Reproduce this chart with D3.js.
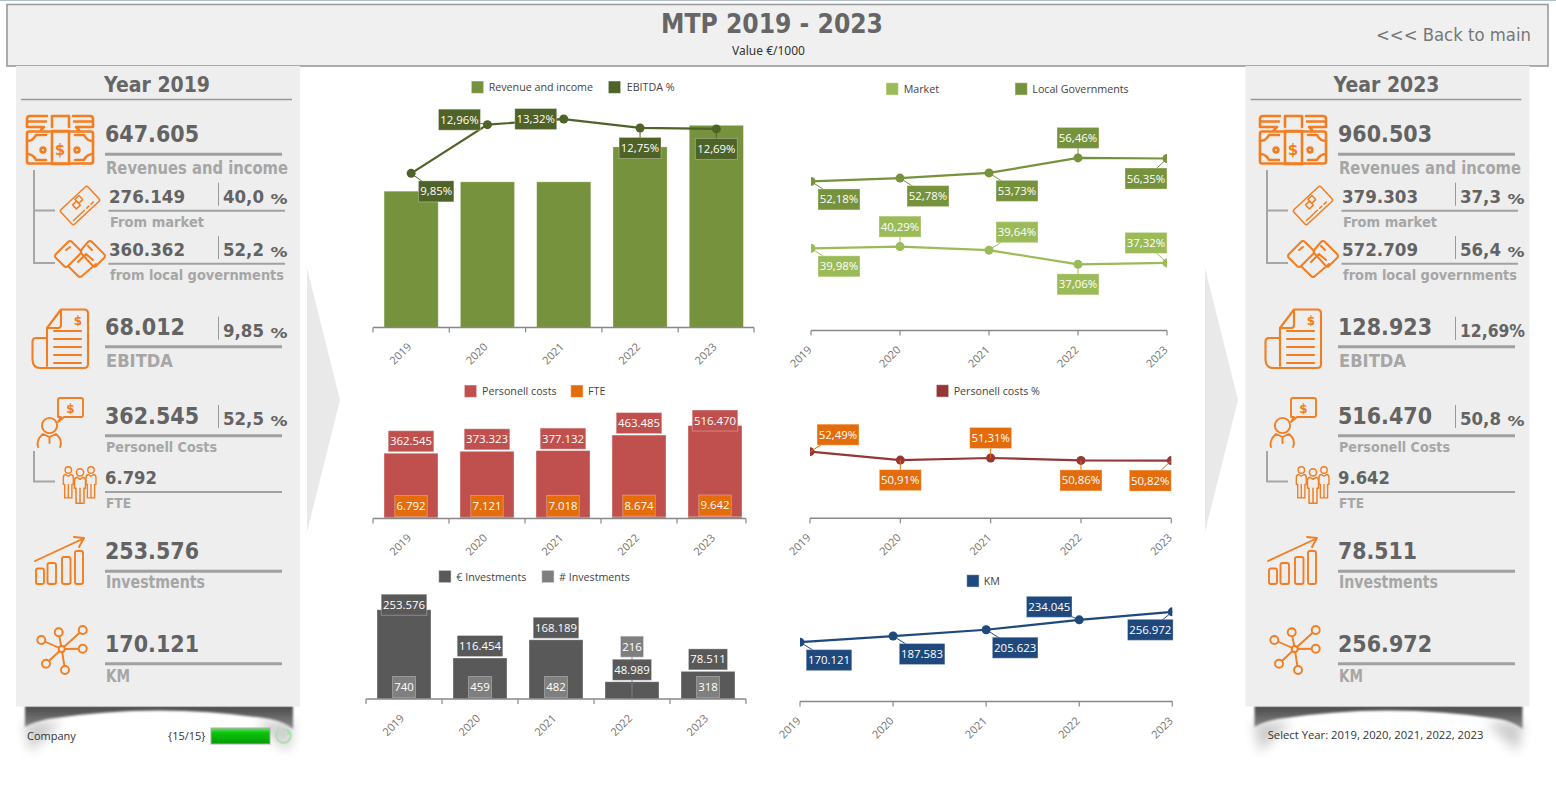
<!DOCTYPE html>
<html>
<head>
<meta charset="utf-8">
<title>MTP 2019 - 2023</title>
<script src="https://cdn.jsdelivr.net/npm/d3@7"></script>
<style>
    html, body { margin: 0; padding: 0; background: #fff; overflow: hidden; }
    svg { display: block; }
    text { font-family: "Open Sans", sans-serif; }
    .kpi text { font-family: "DejaVu Sans", sans-serif; font-weight: bold; }
</style>
</head>
<body>
<svg id="draw" width="1556" height="801"></svg>
<script>
var years = ["2019", "2020", "2021", "2022", "2023"];

// series
var revenue = [647605, 692000, 692000, 858000, 960503];
var ebitdaPct = [9.85, 12.96, 13.32, 12.75, 12.69];
var marketPct = [39.98, 40.29, 39.64, 37.06, 37.32];
var govPct = [52.18, 52.78, 53.73, 56.46, 56.35];
var personnel = [362545, 373323, 377132, 463485, 516470];
var fte = [6792, 7121, 7018, 8674, 9642];
var personnelPct = [52.49, 50.91, 51.31, 50.86, 50.82];
var investEuro = [253576, 116454, 168189, 48989, 78511];
var investCount = [740, 459, 482, 216, 318];
var km = [170121, 187583, 205623, 234045, 256972];

// side panels only show first and last year
var panelYears = ["2019", "2023"];
var marketAbs = [276149, 379303];
var govAbs = [360362, 572709];
var ebitdaAbs = [68012, 128923];

var C_ORANGE = "#f47d20", C_RULE = "#a0a0a0", C_VAL = "#636363", C_LBL = "#a6a6a6";

var svg = d3.select("#draw");
var defs = svg.append("defs");

var fmtThousand = d3.formatLocale({decimal: ",", thousands: ".", grouping: [3], currency: ["", ""]}).format(",d");
function pct2(v){ return v.toFixed(2).replace(".", ",") + "%"; }
function pct1(v){ return v.toFixed(1).replace(".", ","); }

//blur + gradients
defs.append("filter").attr("id", "blur2").attr("x", "-20%").attr("y", "-50%").attr("width", "140%").attr("height", "200%")
    .append("feGaussianBlur").attr("stdDeviation", 1);
defs.append("filter").attr("id", "blur8").attr("x", "-60%").attr("y", "-60%").attr("width", "220%").attr("height", "220%")
    .append("feGaussianBlur").attr("stdDeviation", 6);
var shade = defs.append("linearGradient").attr("id", "shade").attr("x1", 0).attr("x2", 0).attr("y1", 0).attr("y2", 1);
shade.append("stop").attr("offset", "0").attr("stop-color", "#4a4a4a");
shade.append("stop").attr("offset", "1").attr("stop-color", "#8a8a8a");
var green = defs.append("linearGradient").attr("id", "green").attr("x1", 0).attr("x2", 0).attr("y1", 0).attr("y2", 1);
green.append("stop").attr("offset", "0").attr("stop-color", "#6fe06f");
green.append("stop").attr("offset", "0.3").attr("stop-color", "#0cc40c");
green.append("stop").attr("offset", "1").attr("stop-color", "#049a04");

//header
svg.append("line").attr("x1", 0).attr("x2", 1556).attr("y1", 0.5).attr("y2", 0.5).attr("stroke", "#b4bcc8");
svg.append("rect").attr("x", 7).attr("y", 4.5).attr("width", 1541).attr("height", 61.5)
    .attr("fill", "#f0f0f0").attr("stroke", "#9a9a9a").attr("stroke-width", 1.6);
svg.append("text").text("MTP 2019 - 2023").attr("x", 772).attr("y", 33).attr("text-anchor", "middle")
    .style("font-family", "DejaVu Sans").attr("font-weight", "bold").attr("font-size", 26)
    .attr("fill", "#666").attr("textLength", 222).attr("lengthAdjust", "spacingAndGlyphs");
svg.append("text").text("Value €/1000").attr("x", 768.5).attr("y", 55).attr("text-anchor", "middle")
    .style("font-family", "Noto Sans").attr("font-size", 12).attr("fill", "#333");
svg.append("text").text("<<< Back to main").attr("x", 1376).attr("y", 41)
    .style("font-family", "DejaVu Sans").attr("font-size", 18).attr("fill", "#777")
    .attr("textLength", 155).attr("lengthAdjust", "spacingAndGlyphs");

//light arrows between the panels and the charts
[[307, 340], [1205, 1238]].forEach(function(a){
    svg.append("path").attr("d", "M" + a[0] + " 268L" + a[1] + " 400L" + a[0] + " 532Z").attr("fill", "#e9e9e9");
});

//panel background + the bottom shadow
function panelBack(dx){
    var g = svg.append("g").attr("transform", "translate(" + dx + ",0)");
    g.append("path").attr("d", "M24 722H62L30 752Z").attr("fill", "#000").attr("opacity", 0.2).attr("filter", "url(#blur8)");
    g.append("path").attr("d", "M294 722H256L288 752Z").attr("fill", "#000").attr("opacity", 0.2).attr("filter", "url(#blur8)");
    g.append("path").attr("d", "M25 706H293V729Q285 722 270 719Q159 702 48 719Q33 722 25 727Z")
        .attr("fill", "url(#shade)").attr("filter", "url(#blur2)");
    g.append("rect").attr("x", 16).attr("y", 66).attr("width", 284).attr("height", 640.5).attr("fill", "#eeeeee");
}
panelBack(0);
panelBack(1229.5);

//text helper, textLength keeps the tahoma-like widths
function put(g, str, x, y, size, color, len){
    var t = g.append("text").text(str).attr("x", x).attr("y", y).attr("font-size", size).attr("fill", color);
    if(len){ t.attr("textLength", len).attr("lengthAdjust", "spacingAndGlyphs"); }
    return t;
}
function rule(g, x1, x2, y, w, color){
    g.append("line").attr("x1", x1).attr("x2", x2).attr("y1", y).attr("y2", y)
        .attr("stroke", color || C_RULE).attr("stroke-width", w);
}

// ---------- icons ----------
function iconGroup(g, sw){
    return g.append("g").attr("fill", "none").attr("stroke", C_ORANGE).attr("stroke-width", sw)
        .attr("stroke-linecap", "round").attr("stroke-linejoin", "round");
}
function dollar(g, x, y, size){
    g.append("text").text("$").attr("x", x).attr("y", y).attr("text-anchor", "middle").attr("font-size", size)
        .attr("fill", C_ORANGE).attr("stroke", "none").style("font-family", "DejaVu Sans").attr("font-weight", "bold");
}
function iconMoney(g){
    var i = iconGroup(g, 2.6);
    i.append("path").attr("d", "M27 127V119Q27 116 30 116H47M27 121.5H46M27 127H44L41 130");
    i.append("path").attr("d", "M93 127V119Q93 116 90 116H73M93 121.5H74M93 127H76L79 130");
    i.append("path").attr("d", "M52 127V116H69V127");
    i.append("rect").attr("x", 27).attr("y", 131.5).attr("width", 66).attr("height", 32).attr("rx", 2);
    i.append("rect").attr("x", 52).attr("y", 131).attr("width", 17).attr("height", 33);
    i.append("path").attr("d", "M27 141Q33 141 36 135H46M27 154Q33 154 36 160H46M93 141Q87 141 84 135H75M93 154Q87 154 84 160H75");
    i.append("circle").attr("cx", 43).attr("cy", 150).attr("r", 2.4);
    i.append("circle").attr("cx", 77).attr("cy", 150).attr("r", 2.4);
    dollar(i, 60, 155, 15);
}
function iconCard(g){
    var i = iconGroup(g, 1.5);
    i.append("g").attr("transform", "translate(80,205.5) rotate(-43)").call(function(c){
        c.append("rect").attr("x", -18.5).attr("y", -10).attr("width", 37).attr("height", 20).attr("rx", 2);
        c.append("path").attr("d", "M-15 6.5H0M3 6.5H6M9 6.5H12");
        c.append("rect").attr("x", -5).attr("y", -5.5).attr("width", 5.5).attr("height", 5.5);
        c.append("rect").attr("x", 0.5).attr("y", -8).attr("width", 5.5).attr("height", 5.5);
    });
}
function iconHands(g){
    var i = iconGroup(g, 2);
    i.append("path").attr("d", "M56 254L68 242Q70 240 72 242L80 250Q82 252 80 254L68 266Q66 268 64 266L56 258Q54 256 56 254Z");
    i.append("path").attr("d", "M104 254L92 242Q90 240 88 242L82 249Q80 252 82 254L92 265Q94 268 96 266L104 258Q106 256 104 254Z");
    i.append("path").attr("d", "M68 266L78 276Q80 278 82 276L96 264M78 262L86 254L93 260M66 250L70 247M88 246L92 250");
}
function iconDoc(g){
    var i = iconGroup(g, 2.1);
    i.append("path").attr("d", "M47 366V328L61 309.5H84Q88 309.5 88 313.5V364Q88 368 84 368H40Q33 368 32.5 360V342Q32.5 338 36 338H47");
    i.append("path").attr("d", "M47 328H58Q61 328 61 325V310M54 331H81M54 339H81M54 347H81M54 355H81M54 363H81");
    dollar(i, 78, 325, 12);
}
function iconPerson(g){
    var i = iconGroup(g, 1.9);
    i.append("circle").attr("cx", 49.5).attr("cy", 425.5).attr("r", 7.6);
    i.append("path").attr("d", "M38 447Q36 440 43 434L49.5 437L56 434Q63 440 60 447M49.5 437V443");
    i.append("path").attr("d", "M58 422L61 417H58V400Q58 398 60 398H81Q83 398 83 400V415Q83 417 81 417H64Z");
    dollar(i, 70.5, 413, 12);
}
function iconPeople(g){
    var i = iconGroup(g, 1.5);
    [[68.3, 470, 0.9], [91, 470, 0.9], [80, 472.3, 1]].forEach(function(p){
        i.append("g").attr("transform", "translate(" + p[0] + "," + p[1] + ") scale(" + p[2] + ")").call(function(f){
            f.append("circle").attr("r", 3.6).attr("fill", "#eee");
            f.append("path").attr("d", "M-5.5 16V8Q-5.5 5.5 -3 5L0 7L3 5Q5.5 5.5 5.5 8V16H4V31H-4V16ZM0 16V31").attr("fill", "#eee");
        });
    });
}
function iconChart(g){
    var i = iconGroup(g, 1.9);
    i.append("path").attr("d", "M35 561L83.5 538.5M74 537L84 538L79 547");
    [[36, 568.5, 8], [47.5, 563, 8.5], [62, 557, 8.5], [75, 551, 8]].forEach(function(b){
        i.append("rect").attr("x", b[0]).attr("y", b[1]).attr("width", b[2]).attr("height", 584 - b[1]).attr("rx", 2);
    });
}
function iconNet(g){
    var i = iconGroup(g, 1.9);
    var hub = [61.7, 649];
    var nodes = [[41.3, 640], [58.7, 632.3], [82.7, 630], [82.7, 648.7], [65, 670], [46, 663.7]];
    nodes.forEach(function(n){
        i.append("line").attr("x1", hub[0]).attr("y1", hub[1]).attr("x2", n[0]).attr("y2", n[1]);
    });
    nodes.forEach(function(n){
        i.append("circle").attr("cx", n[0]).attr("cy", n[1]).attr("r", 4).attr("fill", "#eee");
    });
    i.append("circle").attr("cx", hub[0]).attr("cy", hub[1]).attr("r", 3).attr("fill", "#eee");
}

// ---------- one KPI panel ----------
function drawPanel(idx){
    var last = idx === 0 ? 0 : years.length - 1;      //index in the yearly series
    var dx = idx === 0 ? 0 : 1233;
    var sideX = idx === 0 ? 0 : 4;                    //percent column sits a bit further right
    var g = svg.append("g").attr("class", "kpi").attr("transform", "translate(" + dx + ",0)");

    var titleDx = idx === 0 ? 0 : -3.5;
    put(g, "Year " + panelYears[idx], 157 + titleDx, 92, 21, "#666", 106).attr("text-anchor", "middle");
    rule(g, 21 + titleDx, 292 + titleDx, 99.5, 1.4, "#999");

    //tree connectors
    g.append("path").attr("d", "M34 170V263H55M34 210.5H55M34 451V481.5H55").attr("fill", "none").attr("stroke", "#a6a6a6").attr("stroke-width", 2);

    function side(y, yTop, str){
        g.append("line").attr("x1", 218.5 + sideX).attr("x2", 218.5 + sideX).attr("y1", yTop).attr("y2", yTop + 23).attr("stroke", "#999");
        put(g, str, 223 + sideX, y, 18, C_VAL, 41);
        put(g, "%", 270.5 + sideX, y + 1, 14, C_VAL, 17);
    }

    iconMoney(g);
    put(g, fmtThousand(revenue[last]), 105, 142, 23, C_VAL, 94);
    rule(g, 105, 282, 154.3, 3);
    put(g, "Revenues and income", 106, 174, 17, C_LBL, 182);

    iconCard(g);
    put(g, fmtThousand(marketAbs[idx]), 109, 202.7, 18, C_VAL, 76);
    side(203, 182.7, pct1(marketPct[last]));
    rule(g, 108.5, 285, 210.7, 2);
    put(g, "From market", 110, 227.3, 14.7, C_LBL, 94);

    iconHands(g);
    put(g, fmtThousand(govAbs[idx]), 109, 255.7, 18, C_VAL, 76);
    side(256, 236, pct1(govPct[last]));
    rule(g, 108.5, 285, 263.7, 2);
    put(g, "from local governments", 110, 280, 14.7, C_LBL, 174);

    iconDoc(g);
    put(g, fmtThousand(ebitdaAbs[idx]), 105, 335, 23, C_VAL, idx === 0 ? 80 : 94);
    if(idx === 0){
        side(337, 316.7, pct2(ebitdaPct[last]).replace("%", ""));
    } else {
        g.append("line").attr("x1", 222.5).attr("x2", 222.5).attr("y1", 316.7).attr("y2", 340).attr("stroke", "#999");
        put(g, pct2(ebitdaPct[last]), 227, 337, 18, C_VAL, 65);
    }
    rule(g, 105, 282, 346.7, 3);
    put(g, "EBITDA", 106, 367.3, 17, C_LBL, 67);

    iconPerson(g);
    put(g, fmtThousand(personnel[last]), 105, 424, 23, C_VAL, 94);
    side(425, 405, pct1(personnelPct[last]));
    rule(g, 105, 282, 435.7, 3);
    put(g, "Personell Costs", 106, 452.3, 14.7, C_LBL, 111);

    iconPeople(g);
    put(g, fmtThousand(fte[last]), 105, 484, 18, C_VAL, 52);
    rule(g, 105, 282, 492, 2);
    put(g, "FTE", 106, 508.3, 14.7, C_LBL, 25);

    iconChart(g);
    put(g, fmtThousand(investEuro[last]), 105, 558.7, 23, C_VAL, idx === 0 ? 94 : 79);
    rule(g, 105, 282, 571.3, 3);
    put(g, "Investments", 106, 588.3, 17, C_LBL, 99);

    iconNet(g);
    put(g, fmtThousand(km[last]), 105, 651.7, 23, C_VAL, 94);
    rule(g, 105, 282, 663.7, 3);
    put(g, "KM", 106, 681.7, 17, C_LBL, 24);
}
drawPanel(0);
drawPanel(1);

//footer
svg.append("text").text("Company").attr("x", 27).attr("y", 740).attr("font-size", 11).attr("fill", "#333");
svg.append("text").text("{15/15}").attr("x", 168).attr("y", 740).attr("font-size", 11).attr("fill", "#333");
svg.append("rect").attr("x", 211).attr("y", 728).attr("width", 59).attr("height", 16).attr("fill", "url(#green)")
    .attr("stroke", "#aaa");
svg.append("path").attr("d", "M288 730A7.2 7.2 0 1 1 279 730M288 730V735M288 730H283")
    .attr("fill", "none").attr("stroke", "#b0e0b0").attr("stroke-width", 2.2);
svg.append("text").text("Select Year: 2019, 2020, 2021, 2022, 2023").attr("x", 1267.7).attr("y", 738.5).attr("font-size", 11.5)
    .attr("fill", "#333").attr("textLength", 215.7).attr("lengthAdjust", "spacingAndGlyphs");

// ---------- chart helpers ----------
function legend(items, y){
    items.forEach(function(d){
        svg.append("rect").attr("x", d.x).attr("y", y).attr("width", 12.4).attr("height", 12.4).attr("fill", d.color)
            .attr("stroke", "#fff").attr("stroke-opacity", 0.5);
        svg.append("text").text(d.text).attr("x", d.tx).attr("y", y + 10.4).attr("font-size", 10.7).attr("fill", "#444");
    });
}

//axis line and ticks at tickXs, year labels on labelScale
function xAxis(labelScale, tickXs, y){
    var g = svg.append("g").attr("transform", "translate(0," + y + ")");
    g.call(d3.axisBottom(labelScale).tickSize(0));
    g.select(".domain").remove();
    g.selectAll(".tick text")
        .attr("font-size", 11).attr("fill", "#707070").style("font-family", "Open Sans")
        .attr("text-anchor", "end").attr("x", 0).attr("y", 0).attr("dy", 0)
        .attr("transform", "translate(1,20) rotate(-45)");
    g.append("line").attr("x1", tickXs[0]).attr("x2", tickXs[tickXs.length - 1]).attr("stroke", "#888").attr("stroke-width", 1.5);
    g.selectAll(".edge").data(tickXs).enter().append("line").attr("class", "edge")
        .attr("x1", function(d){ return d; }).attr("x2", function(d){ return d; })
        .attr("y1", 0).attr("y2", 5).attr("stroke", "#888").attr("stroke-width", 1.2);
}

//ticks sit between the bars, last one is given because the axis can stop early
function bandTicks(x, end){
    var t = years.map(function(d){ return x(d) - (x.step() - x.bandwidth()) / 2; });
    t.push(end);
    return t;
}

function valueLabel(px, py, cx, cy, str, color, link){
    if(link){
        svg.append("line").attr("x1", px).attr("y1", py).attr("x2", cx).attr("y2", cy).attr("stroke", color);
    }
    var t = svg.append("text").text(str).attr("x", cx).attr("y", cy + 4).attr("text-anchor", "middle")
        .attr("font-size", 11.4).attr("fill", "#fff");
    var w = t.node().getComputedTextLength() + 3.5;
    svg.insert("rect", function(){ return t.node(); })
        .attr("x", cx - w / 2).attr("y", cy - 10.5).attr("width", w).attr("height", 21)
        .attr("fill", color).attr("stroke", "#fff").attr("stroke-opacity", 0.3);
}

function bars(x, y, values, color){
    svg.selectAll(null).data(values).enter().append("rect")
        .attr("x", function(d, i){ return x(years[i]); })
        .attr("width", x.bandwidth())
        .attr("y", function(d){ return y(d); })
        .attr("height", function(d){ return y(0) - y(d); })
        .attr("fill", color).attr("stroke", "#fff").attr("stroke-opacity", 0.4).attr("stroke-width", 0.8);
}

var clipId = 0;
function lineSeries(x, y, values, color, offs, fillLabel, clip, fmt){
    var g = svg.append("g");
    if(clip){
        clipId++;
        defs.append("clipPath").attr("id", "clip" + clipId).append("rect")
            .attr("x", x.range()[0]).attr("y", 0).attr("width", x.range()[1] - x.range()[0]).attr("height", 801);
        g.attr("clip-path", "url(#clip" + clipId + ")");
    }
    var line = d3.line().x(function(d, i){ return x(years[i]); }).y(function(d){ return y(d); });
    g.append("path").attr("d", line(values)).attr("fill", "none").attr("stroke", color).attr("stroke-width", 2.2);
    g.selectAll("circle").data(values).enter().append("circle")
        .attr("cx", function(d, i){ return x(years[i]); })
        .attr("cy", function(d){ return y(d); })
        .attr("r", 4.5).attr("fill", color);
    //boxes go over the line, the connector sticks out of them to the marker
    values.forEach(function(v, i){
        valueLabel(x(years[i]), y(v), x(years[i]) + offs[i][0], y(v) + offs[i][1], fmt(v), fillLabel || color, true);
    });
}

// ---------- chart 1, revenue and EBITDA ----------
var c1x = d3.scaleBand().domain(years).range([373, 754.5]).paddingInner(0.29).paddingOuter(0.145);
var c1y = d3.scaleLinear().domain([0, 1000000]).range([327.5, 117]);
var c1p = d3.scaleLinear().domain([0, 14]).range([327.5, 108.4]);
var c1pt = d3.scalePoint().domain(years).range([c1x("2019") + c1x.bandwidth() / 2, c1x("2023") + c1x.bandwidth() / 2]);
bars(c1x, c1y, revenue, "#76923c");
xAxis(c1x, bandTicks(c1x, 754), 327.5);
lineSeries(c1pt, c1p, ebitdaPct, "#4f6228", [[25, 18], [-28, -5], [-28, 0], [0, 20], [0, 20]], null, false, pct2);
legend([{x: 471.3, tx: 488.7, color: "#76923c", text: "Revenue and income"},
    {x: 608.3, tx: 626.7, color: "#4f6228", text: "EBITDA %"}], 81);

// ---------- chart 2, market / local governments ----------
var c2x = d3.scalePoint().domain(years).range([811, 1167]);
var c2y = d3.scaleLinear().domain([25, 60]).range([330.5, 138.5]);
lineSeries(c2x, c2y, govPct, "#76923c", [[28, 18], [28, 18], [28, 18], [0, -20], [-21, 20]], null, true, pct2);
lineSeries(c2x, c2y, marketPct, "#9bbb59", [[28, 18], [0, -20], [28, -18], [0, 20], [-21, -20]], null, true, pct2);
xAxis(c2x, years.map(c2x), 330.5);
legend([{x: 886, tx: 903.7, color: "#9bbb59", text: "Market"},
    {x: 1015, tx: 1032.3, color: "#76923c", text: "Local Governments"}], 82.7);

// ---------- chart 3, personnel costs and FTE ----------
var c3x = d3.scaleBand().domain(years).range([373, 753]).paddingInner(0.29).paddingOuter(0.145);
var c3y = d3.scaleLinear().domain([0, 550000]).range([518.5, 419.5]);
bars(c3x, c3y, personnel, "#c0504d");
bars(c3x, c3y, fte, "#e46c0a");
xAxis(c3x, bandTicks(c3x, 746), 518.5);
personnel.forEach(function(v, i){
    var cx = c3x(years[i]) + c3x.bandwidth() / 2;
    valueLabel(cx, c3y(v), cx, c3y(v) + (i === 4 ? -5 : -12), fmtThousand(v), "#c0504d", false);
});
fte.forEach(function(v, i){
    var cx = c3x(years[i]) + c3x.bandwidth() / 2;
    valueLabel(cx, c3y(v), cx, c3y(v) - 11.3, fmtThousand(v), "#e46c0a", false);
});
legend([{x: 464.3, tx: 482, color: "#c0504d", text: "Personell costs"},
    {x: 570.7, tx: 588, color: "#e46c0a", text: "FTE"}], 385);

// ---------- chart 4, personnel % ----------
var c4x = d3.scalePoint().domain(years).range([810, 1171.3]);
var c4y = d3.scaleLinear().domain([40, 55]).range([518.3, 438.3]);
lineSeries(c4x, c4y, personnelPct, "#953735", [[28, -17], [0, 20], [0, -20], [0, 20], [-21, 20]], "#e46c0a", true, pct2);
xAxis(c4x, years.map(c4x), 518.3);
legend([{x: 936.3, tx: 953.7, color: "#953735", text: "Personell costs %"}], 384.7);

// ---------- chart 5, investments ----------
var c5x = d3.scaleBand().domain(years).range([366, 746]).paddingInner(0.29).paddingOuter(0.145);
var c5y = d3.scaleLinear().domain([0, 300000]).range([699, 593.4]);
bars(c5x, c5y, investEuro, "#595959");
xAxis(c5x, bandTicks(c5x, 746), 699);
investCount.forEach(function(v, i){
    var cx = c5x(years[i]) + c5x.bandwidth() / 2;
    var high = i === 3;     //2022 bar is too low, label sits on top with a thin connector
    valueLabel(cx, c5y(0), cx, high ? 646.7 : 687, String(v), "#7f7f7f", high);
});
investEuro.forEach(function(v, i){
    var cx = c5x(years[i]) + c5x.bandwidth() / 2;
    valueLabel(cx, c5y(v), cx, c5y(v) + (i === 0 ? -5 : -12), fmtThousand(v), "#595959", false);
});
legend([{x: 438.7, tx: 456.3, color: "#595959", text: "€ Investments"},
    {x: 541.7, tx: 559, color: "#7f7f7f", text: "# Investments"}], 570.3);

// ---------- chart 6, KM ----------
var c6x = d3.scalePoint().domain(years).range([800, 1172.3]);
var c6y = d3.scaleLinear().domain([0, 300000]).range([701.5, 596.8]);
lineSeries(c6x, c6y, km, "#1f497d", [[29, 18], [29, 18], [29, 18], [-30, -13], [-22, 18]], null, true, fmtThousand);
xAxis(c6x, years.map(c6x), 701.5);
legend([{x: 966.7, tx: 983.7, color: "#1f497d", text: "KM"}], 574.7);
</script>
</body>
</html>
